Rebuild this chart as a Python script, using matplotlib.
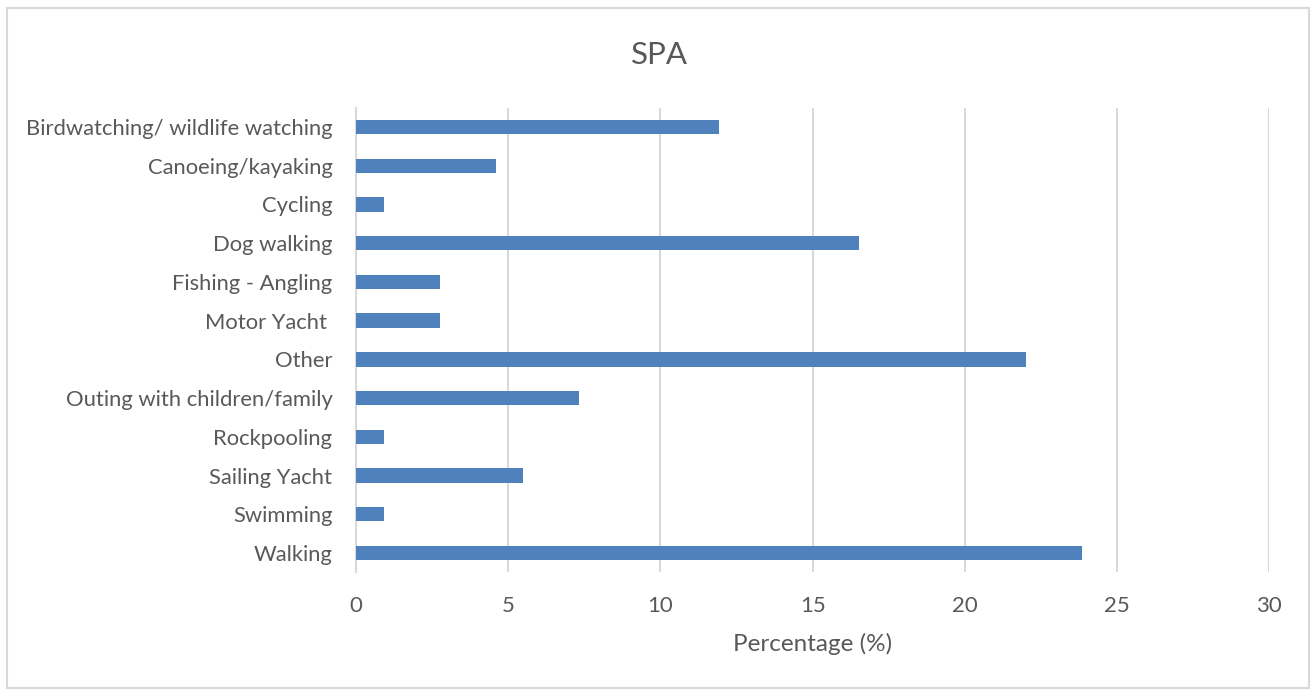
import matplotlib.pyplot as plt
from matplotlib.patches import Rectangle

plt.rcParams['font.family'] = ['Lato', 'DejaVu Sans']

activities = ['Birdwatching/ wildlife watching', 'Canoeing/kayaking', 'Cycling',
              'Dog walking', 'Fishing - Angling', 'Motor Yacht ', 'Other',
              'Outing with children/family', 'Rockpooling', 'Sailing Yacht',
              'Swimming', 'Walking']
percentages = [11.93, 4.59, 0.92, 16.51, 2.75, 2.75, 22.02, 7.34, 0.92, 5.50, 0.92, 23.85]
x_ticks = [0, 5, 10, 15, 20, 25, 30]

text_color = '#595959'
grid_color = '#D9D9D9'
bar_color = '#4F81BD'

W, H = 1311, 691
fig = plt.figure(figsize=(W / 100, H / 100), dpi=100)
ax = fig.add_axes([356 / W, 1 - 572.4 / H, (1269.3 - 356) / W, (572.4 - 107.6) / H])

pos = list(range(len(activities)))
ax.barh(pos, percentages, height=0.37, color=bar_color, zorder=3)
ax.set_ylim(len(activities) - 0.5, -0.5)
ax.set_yticks(pos)
ax.set_yticklabels(activities, fontsize=15.8, color=text_color)
ax.set_xlim(0, 30)
ax.set_xticks(x_ticks)
ax.set_xticklabels([str(t) for t in x_ticks], fontsize=16, color=text_color)
ax.tick_params(axis='both', length=0)
ax.tick_params(axis='x', pad=17)
ax.tick_params(axis='y', pad=17)
ax.xaxis.grid(True, color=grid_color, linewidth=1.5, zorder=0)
for side in ['top', 'right', 'bottom']:
    ax.spines[side].set_visible(False)
ax.spines['left'].set_color(grid_color)
ax.spines['left'].set_linewidth(1.5)

ax.set_xlabel('Percentage (%)', fontsize=17.5, color=text_color, labelpad=12)
fig.text(659 / W, 1 - 55 / H, 'SPA', ha='center', va='center', fontsize=22.5, color=text_color)

# chart area border
fig.patches.append(Rectangle((7 / W, 1 - 688 / H), (1309 - 7) / W, (688 - 8) / H,
                             transform=fig.transFigure, fill=False,
                             edgecolor=grid_color, linewidth=1.5))

fig.savefig('out.png', dpi=100, facecolor='white')
